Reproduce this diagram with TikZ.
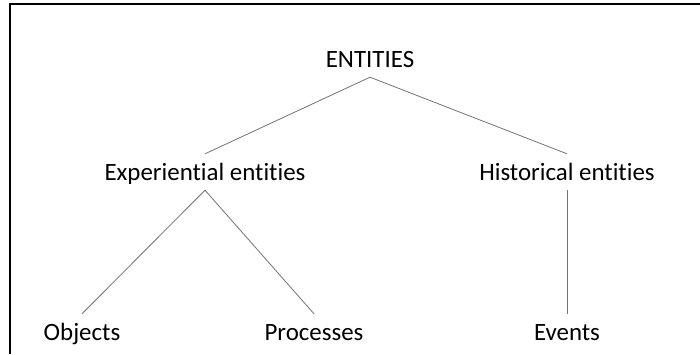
\documentclass[tikz,border=0pt]{standalone}
\usepackage{fontspec}
\setmainfont{Carlito}[Ligatures=NoCommon]
\usepackage{tikz}

\begin{document}
\begin{tikzpicture}[x=1bp, y=-1bp,
	term/.style={anchor=base, inner xsep=0pt, inner ysep=8bp, text height=18bp, text depth=2bp, font=\fontsize{25}{30}\selectfont},
	branch/.style={draw=black!55, line width=0.8bp}]
	
	\useasboundingbox (0, 0) rectangle (700, 354);
	\draw[line width=2bp] (10, 354) -- (10, 4) -- (700, 4);
	
	\node[term] (entities) at (370, 67)  {ENTITIES};
	\node[term] (exper)    at (205, 180) {Experiential entities};
	\node[term] (hist)     at (567, 180) {Historical entities};
	\node[term] (objects)  at (82, 340)  {Objects};
	\node[term] (process)  at (314, 340) {Processes};
	\node[term] (events)   at (567, 340) {Events};
	
	\path[branch] (entities.south) edge (exper.north);
	\path[branch] (entities.south) edge (hist.north);
	\path[branch] (exper.south) edge (objects.north);
	\path[branch] (exper.south) edge (process.north);
	\path[branch] (hist.south) edge (events.north);
	
\end{tikzpicture}
\end{document}
